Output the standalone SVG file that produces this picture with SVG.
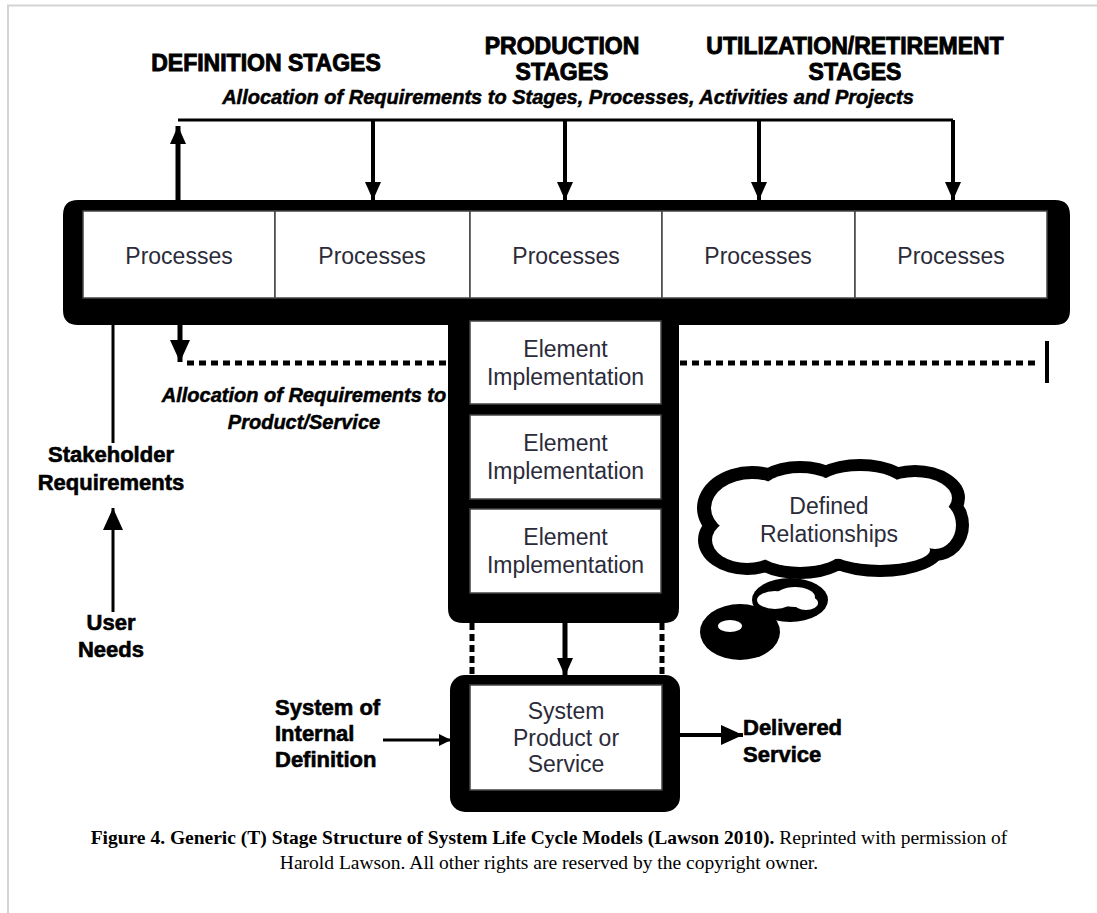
<svg xmlns="http://www.w3.org/2000/svg" width="1097" height="913" viewBox="0 0 1097 913">
<defs>
<style>
.hd{font-family:"Liberation Sans",Arial,sans-serif;font-weight:bold;font-size:23px;fill:#000;stroke:#000;stroke-width:0.9;text-anchor:middle}
.lb{font-family:"Liberation Sans",Arial,sans-serif;font-weight:bold;font-size:22px;fill:#000;stroke:#000;stroke-width:0.6}
.it{font-family:"Liberation Sans",Arial,sans-serif;font-weight:bold;font-style:italic;font-size:20px;fill:#000;stroke:#000;stroke-width:0.5;text-anchor:middle}
.bx{font-family:"Liberation Sans",Arial,sans-serif;font-size:23px;fill:#2b2b3a;text-anchor:middle}
.cap{font-family:"Liberation Serif","Times New Roman",serif;font-size:19.5px;fill:#000;text-anchor:middle}
.cell{fill:#fff;stroke:#444;stroke-width:1.5}
.blk{fill:#000}
.ln{fill:none;stroke:#000}
.cb{fill:#000}
.cw{fill:#fff}
</style>
<marker id="ah" viewBox="0 0 18 16" markerWidth="18" markerHeight="16" refX="18" refY="8" orient="auto" markerUnits="userSpaceOnUse">
<path d="M0,0 L18,8 L0,16 Z" fill="#000"/>
</marker>
<marker id="ahL" viewBox="0 0 22 20" markerWidth="22" markerHeight="20" refX="22" refY="10" orient="auto" markerUnits="userSpaceOnUse">
<path d="M0,0 L22,10 L0,20 Z" fill="#000"/>
</marker>
<marker id="ahS" viewBox="0 0 12 12" markerWidth="12" markerHeight="12" refX="12" refY="6" orient="auto" markerUnits="userSpaceOnUse">
<path d="M0,0 L12,6 L0,12 Z" fill="#000"/>
</marker>
</defs>
<rect width="1097" height="913" fill="#fff"/>
<path d="M8,913 V5.5 H1097" fill="none" stroke="#d3d3d3" stroke-width="2"/>

<g id="headings">
<text class="hd" x="266" y="71">DEFINITION STAGES</text>
<text class="hd" x="562" y="54">PRODUCTION</text>
<text class="hd" x="562" y="80">STAGES</text>
<text class="hd" x="855" y="54">UTILIZATION/RETIREMENT</text>
<text class="hd" x="855" y="80">STAGES</text>
<text class="it" x="568" y="104">Allocation of  Requirements to Stages, Processes, Activities and Projects</text>
</g>

<g id="alloc-product-label">
<text class="it" x="304" y="402" font-size="21">Allocation of  Requirements to</text>
<text class="it" x="304" y="429">Product/Service</text>
</g>

<g id="t-structure">
<path class="blk" d="M78,200 H1055 Q1070,200 1070,215 V310 Q1070,325 1055,325 H679 V608 Q679,623 664,623 H463 Q448,623 448,608 V325 H78 Q63,325 63,310 V215 Q63,200 78,200 Z"/>
</g>

<g id="process-1"><rect class="cell" x="83" y="211" width="192" height="87"/><text class="bx" x="179" y="264">Processes</text></g>
<g id="process-2"><rect class="cell" x="275" y="211" width="195" height="87"/><text class="bx" x="372" y="264">Processes</text></g>
<g id="process-3"><rect class="cell" x="470" y="211" width="192" height="87"/><text class="bx" x="566" y="264">Processes</text></g>
<g id="process-4"><rect class="cell" x="662" y="211" width="193" height="87"/><text class="bx" x="758" y="264">Processes</text></g>
<g id="process-5"><rect class="cell" x="855" y="211" width="192" height="87"/><text class="bx" x="951" y="264">Processes</text></g>

<g id="element-1"><rect class="cell" x="470" y="321" width="191" height="83"/><text class="bx" x="565.5" y="357">Element</text><text class="bx" x="565.5" y="385">Implementation</text></g>
<g id="element-2"><rect class="cell" x="470" y="415" width="191" height="84"/><text class="bx" x="565.5" y="451">Element</text><text class="bx" x="565.5" y="479">Implementation</text></g>
<g id="element-3"><rect class="cell" x="470" y="509" width="191" height="84"/><text class="bx" x="565.5" y="545">Element</text><text class="bx" x="565.5" y="573">Implementation</text></g>

<g id="system-product">
<rect class="blk" x="450" y="675" width="230" height="137" rx="15"/>
<rect class="cell" x="470" y="685" width="192" height="105"/>
<text class="bx" x="566" y="719">System</text>
<text class="bx" x="566" y="746">Product or</text>
<text class="bx" x="566" y="772">Service</text>
</g>

<g id="cloud">
<ellipse class="cb" cx="832" cy="522" rx="119" ry="49"/>
<ellipse class="cb" cx="752" cy="508" rx="55" ry="42"/>
<ellipse class="cb" cx="800" cy="492" rx="52" ry="31"/>
<ellipse class="cb" cx="860" cy="488" rx="56" ry="29"/>
<ellipse class="cb" cx="915" cy="498" rx="50" ry="33"/>
<ellipse class="cb" cx="935" cy="525" rx="34" ry="36"/>
<ellipse class="cb" cx="747" cy="540" rx="49" ry="35"/>
<ellipse class="cb" cx="800" cy="552" rx="54" ry="27"/>
<ellipse class="cb" cx="880" cy="550" rx="64" ry="27"/>
<ellipse class="cb" cx="790" cy="600" rx="38" ry="22"/>
<ellipse class="cb" cx="740" cy="632" rx="40" ry="28"/>
<ellipse class="cw" cx="832" cy="522" rx="105" ry="37"/>
<ellipse class="cw" cx="752" cy="508" rx="41" ry="29"/>
<ellipse class="cw" cx="800" cy="492" rx="38" ry="19"/>
<ellipse class="cw" cx="860" cy="488" rx="42" ry="17"/>
<ellipse class="cw" cx="915" cy="498" rx="37" ry="21"/>
<ellipse class="cw" cx="935" cy="525" rx="21" ry="24"/>
<ellipse class="cw" cx="747" cy="540" rx="35" ry="23"/>
<ellipse class="cw" cx="800" cy="552" rx="40" ry="15"/>
<ellipse class="cw" cx="880" cy="550" rx="50" ry="15"/>
<ellipse class="cw" cx="775" cy="600" rx="18" ry="9"/>
<ellipse class="cw" cx="795" cy="597" rx="20" ry="10"/>
<ellipse class="cw" cx="806" cy="603" rx="12" ry="7"/>
<ellipse class="cw" cx="730" cy="626" rx="12" ry="6"/>
<text class="bx" x="829" y="514">Defined</text>
<text class="bx" x="829" y="542">Relationships</text>
</g>

<g id="side-labels">
<text class="lb" x="111" y="462" text-anchor="middle">Stakeholder</text>
<text class="lb" x="111" y="490" text-anchor="middle">Requirements</text>
<text class="lb" x="111" y="630" text-anchor="middle">User</text>
<text class="lb" x="111" y="657" text-anchor="middle">Needs</text>
<text class="lb" x="275" y="715">System of</text>
<text class="lb" x="275" y="741">Internal</text>
<text class="lb" x="275" y="767">Definition</text>
<text class="lb" x="743" y="735">Delivered</text>
<text class="lb" x="743" y="762">Service</text>
</g>

<g id="connectors">
<path class="ln" stroke-width="3" d="M178,120 H953"/>
<path class="ln" stroke-width="5" d="M178,200 V126" marker-end="url(#ah)"/>
<path class="ln" stroke-width="4" d="M373,120 V200" marker-end="url(#ah)"/>
<path class="ln" stroke-width="4" d="M565,120 V200" marker-end="url(#ah)"/>
<path class="ln" stroke-width="4" d="M759,120 V200" marker-end="url(#ah)"/>
<path class="ln" stroke-width="4" d="M953,120 V200" marker-end="url(#ah)"/>
<path class="ln" stroke-width="3" d="M113,325 V443"/>
<path class="ln" stroke-width="5" d="M180,325 V362" marker-end="url(#ahL)"/>
<path class="ln" stroke-width="5" stroke-dasharray="7 5" d="M187,363 H448"/>
<path class="ln" stroke-width="5" stroke-dasharray="7 5" d="M680,363 H1040"/>
<path class="ln" stroke-width="4" d="M1047,341 V383"/>
<path class="ln" stroke-width="3" d="M113,612 V508" marker-end="url(#ahL)"/>
<path class="ln" stroke-width="5" d="M565,623 V676" marker-end="url(#ah)"/>
<path class="ln" stroke-width="5" stroke-dasharray="7 4" d="M472,623 V675"/>
<path class="ln" stroke-width="5" stroke-dasharray="7 4" d="M662,623 V675"/>
<path class="ln" stroke-width="3" d="M383,740 H451" marker-end="url(#ahS)"/>
<path class="ln" stroke-width="4" d="M680,735 H743" marker-end="url(#ahL)"/>
</g>

<g id="caption">
<text class="cap" x="549" y="844"><tspan font-weight="bold">Figure 4. Generic (T) Stage Structure of System Life Cycle Models (Lawson 2010).</tspan> Reprinted with permission of</text>
<text class="cap" x="549" y="869">Harold Lawson. All other rights are reserved by the copyright owner.</text>
</g>
</svg>
